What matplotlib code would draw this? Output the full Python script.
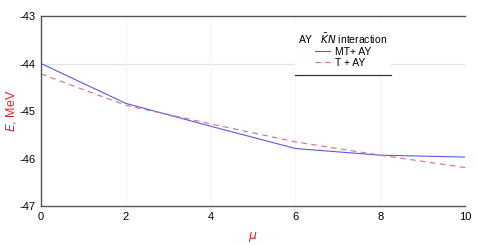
import matplotlib.pyplot as plt
from matplotlib.patches import Rectangle

plt.rcParams['font.family'] = ['Liberation Sans', 'DejaVu Sans']
plt.rcParams['axes.unicode_minus'] = False

mu = [0, 2, 4, 6, 8, 10]
e_mt_ay = [-44.00, -44.84, -45.32, -45.79, -45.93, -45.97]
e_t_ay = [-44.22, -44.88, -45.27, -45.65, -45.93, -46.19]

fig = plt.figure(figsize=(4.78, 2.45), dpi=100)
ax = fig.add_axes([41 / 478, 1 - 206 / 245, 424 / 478, 190 / 245])

ax.plot(mu, e_mt_ay, color='#5a5ae6', lw=0.8, label='MT+ AY')
ax.plot(mu, e_t_ay, color='#d66a8e', lw=0.8, ls=(0, (5, 4)), label='T + AY')

ax.set_xlim(0, 10)
ax.set_ylim(-47, -43)
ax.set_xticks([0, 2, 4, 6, 8, 10])
ax.set_yticks([-47, -46, -45, -44, -43])
ax.tick_params(length=0, labelsize=8, pad=4)

ax.axhline(-44, color='#dfe5e5', lw=0.9, zorder=0)
for xv in [2, 4, 6, 8]:
    ax.axvline(xv, color='#f4f4f4', lw=0.8, zorder=0)

for side in ['left', 'bottom', 'top']:
    ax.spines[side].set_color('#555555')
    ax.spines[side].set_linewidth(1.0)
ax.spines['right'].set_visible(False)

ax.set_xlabel(r'$\mu$', color='#e8202a', fontsize=9, labelpad=6)
ax.set_ylabel(r'$E$, MeV', color='#e8202a', fontsize=9, labelpad=1)

# white legend area with a rule underneath
ax.add_patch(Rectangle((0.60, 0.69), 0.225, 0.28, transform=ax.transAxes,
                       facecolor='white', edgecolor='none', zorder=1))
ax.plot([0.60, 0.825], [0.69, 0.69], transform=ax.transAxes, color='#333333',
        lw=0.9, clip_on=False, zorder=5)

leg = ax.legend(title='AY   $\\mathit{\\bar{K}N}$ interaction', loc='upper center',
                bbox_to_anchor=(0.712, 0.955), fontsize=7.5, title_fontsize=7.5,
                frameon=False, handlelength=1.5, handletextpad=0.4,
                borderpad=0.2, labelspacing=0.1)

fig.savefig('out.png', dpi=100)
